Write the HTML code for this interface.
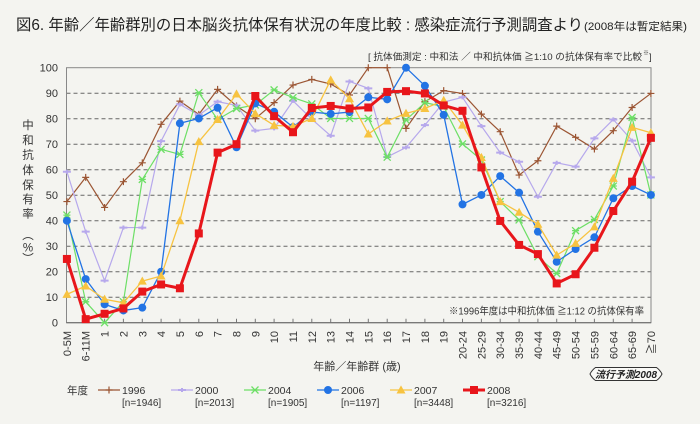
<!DOCTYPE html>
<html><head><meta charset="utf-8">
<style>
html,body{margin:0;padding:0;background:#f4f4f0;}
svg{display:block;font-family:"Liberation Sans","Noto Sans CJK JP",sans-serif;}
</style></head>
<body>
<svg width="700" height="424" viewBox="0 0 700 424" xmlns="http://www.w3.org/2000/svg">
<rect x="0" y="0" width="700" height="424" fill="#f4f4f0"/>
<defs>
<path id="m96" d="M-3.5,0H3.5M0,-1.37V1.37" stroke="#9b5533" stroke-width="1.2" fill="none" vector-effect="non-scaling-stroke"/>
<path id="m00" d="M-4,0H4M0,-0.8V0.8" stroke="#b6a8ec" stroke-width="2" fill="none" vector-effect="non-scaling-stroke"/>
<path id="m04" d="M-3.5,-1.37L3.5,1.37M-3.5,1.37L3.5,-1.37M-3.5,0H3.5" stroke="#6ddf66" stroke-width="1.3" fill="none" vector-effect="non-scaling-stroke"/>
<ellipse id="m06" cx="0" cy="0" rx="4" ry="1.57" fill="#2273e4"/>
<path id="m07" d="M0,1.8L-4.5,-1.37L4.5,-1.37Z" fill="#f7c340"/>
<rect id="m08" x="-4" y="-1.57" width="8" height="3.14" fill="#e8161b"/>
</defs>

<!-- Title -->
<text x="16" y="30" font-size="15.5" fill="#222" textLength="567" lengthAdjust="spacingAndGlyphs">図6. 年齢／年齢群別の日本脳炎抗体保有状況の年度比較 : 感染症流行予測調査より</text>
<text x="584" y="30" font-size="11" fill="#222" textLength="103" lengthAdjust="spacingAndGlyphs">(2008年は暫定結果)</text>

<!-- Subtitle -->
<text x="368" y="60" font-size="9.5" fill="#333" textLength="274" lengthAdjust="spacingAndGlyphs">[ 抗体価測定 : 中和法 ／ 中和抗体価 ≧1:10 の抗体保有率で比較</text>
<text x="643" y="55" font-size="6" fill="#333">※</text>
<text x="649" y="60" font-size="9.5" fill="#333">]</text>

<!-- Grid -->
<g stroke="#666" stroke-width="1" stroke-dasharray="4,3">
<line x1="66.5" y1="297.2" x2="651" y2="297.2"/>
<line x1="66.5" y1="271.7" x2="651" y2="271.7"/>
<line x1="66.5" y1="246.2" x2="651" y2="246.2"/>
<line x1="66.5" y1="220.7" x2="651" y2="220.7"/>
<line x1="66.5" y1="195.2" x2="651" y2="195.2"/>
<line x1="66.5" y1="169.7" x2="651" y2="169.7"/>
<line x1="66.5" y1="144.2" x2="651" y2="144.2"/>
<line x1="66.5" y1="118.7" x2="651" y2="118.7"/>
<line x1="66.5" y1="93.2" x2="651" y2="93.2"/>
</g>
<rect x="66.5" y="67.7" width="584.5" height="255" fill="none" stroke="#888" stroke-width="1"/>
<line x1="66.5" y1="322.7" x2="651" y2="322.7" stroke="#666" stroke-width="1"/>

<!-- x ticks -->
<g stroke="#777" stroke-width="1">
<path d="M85.7,322.7V318.7M104.6,322.7V318.7M123.4,322.7V318.7M142.3,322.7V318.7M161.1,322.7V318.7M179.9,322.7V318.7M198.8,322.7V318.7M217.6,322.7V318.7M236.5,322.7V318.7M255.3,322.7V318.7M274.1,322.7V318.7M293,322.7V318.7M311.8,322.7V318.7M330.7,322.7V318.7M349.5,322.7V318.7M368.3,322.7V318.7M387.2,322.7V318.7M406,322.7V318.7M424.9,322.7V318.7M443.7,322.7V318.7M462.5,322.7V318.7M481.4,322.7V318.7M500.2,322.7V318.7M519.1,322.7V318.7M537.9,322.7V318.7M556.7,322.7V318.7M575.6,322.7V318.7M594.4,322.7V318.7M613.3,322.7V318.7M632.1,322.7V318.7"/>
</g>

<!-- y labels -->
<g font-size="11" fill="#333" text-anchor="end">
<text x="58" y="71.7">100</text>
<text x="58" y="97.2">90</text>
<text x="58" y="122.7">80</text>
<text x="58" y="148.2">70</text>
<text x="58" y="173.7">60</text>
<text x="58" y="199.2">50</text>
<text x="58" y="224.7">40</text>
<text x="58" y="250.2">30</text>
<text x="58" y="275.7">20</text>
<text x="58" y="301.2">10</text>
<text x="58" y="326.7">0</text>
</g>

<!-- y title -->
<g font-size="11.5" fill="#333" text-anchor="middle">
<text x="28" y="129">中</text>
<text x="28" y="144">和</text>
<text x="28" y="158.3">抗</text>
<text x="28" y="174">体</text>
<text x="28" y="189">保</text>
<text x="28" y="203">有</text>
<text x="28" y="217.3">率</text>
<text x="28" y="239">︵</text>
<text x="28" y="251.7">%</text>
<text x="28" y="262.3">︶</text>
</g>

<!-- x labels -->
<g font-size="11" fill="#333" text-anchor="end">
<text transform="translate(70.9,331) rotate(-90)">0-5M</text>
<text transform="translate(89.7,331) rotate(-90)">6-11M</text>
<text transform="translate(108.6,331) rotate(-90)">1</text>
<text transform="translate(127.4,331) rotate(-90)">2</text>
<text transform="translate(146.3,331) rotate(-90)">3</text>
<text transform="translate(165.1,331) rotate(-90)">4</text>
<text transform="translate(183.9,331) rotate(-90)">5</text>
<text transform="translate(202.8,331) rotate(-90)">6</text>
<text transform="translate(221.6,331) rotate(-90)">7</text>
<text transform="translate(240.5,331) rotate(-90)">8</text>
<text transform="translate(259.3,331) rotate(-90)">9</text>
<text transform="translate(278.1,331) rotate(-90)">10</text>
<text transform="translate(297,331) rotate(-90)">11</text>
<text transform="translate(315.8,331) rotate(-90)">12</text>
<text transform="translate(334.7,331) rotate(-90)">13</text>
<text transform="translate(353.5,331) rotate(-90)">14</text>
<text transform="translate(372.3,331) rotate(-90)">15</text>
<text transform="translate(391.2,331) rotate(-90)">16</text>
<text transform="translate(410,331) rotate(-90)">17</text>
<text transform="translate(428.9,331) rotate(-90)">18</text>
<text transform="translate(447.7,331) rotate(-90)">19</text>
<text transform="translate(466.5,331) rotate(-90)">20-24</text>
<text transform="translate(485.4,331) rotate(-90)">25-29</text>
<text transform="translate(504.2,331) rotate(-90)">30-34</text>
<text transform="translate(523.1,331) rotate(-90)">35-39</text>
<text transform="translate(541.9,331) rotate(-90)">40-44</text>
<text transform="translate(560.7,331) rotate(-90)">45-49</text>
<text transform="translate(579.6,331) rotate(-90)">50-54</text>
<text transform="translate(598.4,331) rotate(-90)">55-59</text>
<text transform="translate(617.3,331) rotate(-90)">60-64</text>
<text transform="translate(636.1,331) rotate(-90)">65-69</text>
<text transform="translate(654.9,331) rotate(-90)">≧70</text>
</g>

<!-- x title -->
<text x="357" y="370" font-size="11" fill="#333" text-anchor="middle">年齢／年齢群 (歳)</text>

<!-- annotation -->
<text x="449" y="314.5" font-size="10" fill="#333" textLength="195" lengthAdjust="spacingAndGlyphs">※1996年度は中和抗体価 ≧1:12 の抗体保有率</text>

<!-- Series -->
<g transform="translate(0,322.7) scale(1,-2.55)">
<polyline fill="none" stroke="#9b5533" stroke-width="1.2" stroke-linejoin="round" vector-effect="non-scaling-stroke" points="66.9,47.5 85.7,57 104.6,45.2 123.4,55.3 142.3,62.7 161.1,77.8 179.9,86.9 198.8,81.7 217.6,91.5 236.5,85 255.3,80 274.1,86.3 293,93.2 311.8,95.4 330.7,93.6 349.5,89.3 368.3,100 387.2,100 406,76.2 424.9,86.7 443.7,91 462.5,89.9 481.4,81.8 500.2,74.9 519.1,57.9 537.9,63.5 556.7,77.1 575.6,72.7 594.4,68.1 613.3,75.3 632.1,84.4 650.9,89.9"/>
<use href="#m96" x="66.9" y="47.5"/><use href="#m96" x="85.7" y="57"/><use href="#m96" x="104.6" y="45.2"/><use href="#m96" x="123.4" y="55.3"/><use href="#m96" x="142.3" y="62.7"/><use href="#m96" x="161.1" y="77.8"/><use href="#m96" x="179.9" y="86.9"/><use href="#m96" x="198.8" y="81.7"/><use href="#m96" x="217.6" y="91.5"/><use href="#m96" x="236.5" y="85"/><use href="#m96" x="255.3" y="80"/><use href="#m96" x="274.1" y="86.3"/><use href="#m96" x="293" y="93.2"/><use href="#m96" x="311.8" y="95.4"/><use href="#m96" x="330.7" y="93.6"/><use href="#m96" x="349.5" y="89.3"/><use href="#m96" x="368.3" y="100"/><use href="#m96" x="387.2" y="100"/><use href="#m96" x="406" y="76.2"/><use href="#m96" x="424.9" y="86.7"/><use href="#m96" x="443.7" y="91"/><use href="#m96" x="462.5" y="89.9"/><use href="#m96" x="481.4" y="81.8"/><use href="#m96" x="500.2" y="74.9"/><use href="#m96" x="519.1" y="57.9"/><use href="#m96" x="537.9" y="63.5"/><use href="#m96" x="556.7" y="77.1"/><use href="#m96" x="575.6" y="72.7"/><use href="#m96" x="594.4" y="68.1"/><use href="#m96" x="613.3" y="75.3"/><use href="#m96" x="632.1" y="84.4"/><use href="#m96" x="650.9" y="89.9"/>

<polyline fill="none" stroke="#b6a8ec" stroke-width="1.2" stroke-linejoin="round" vector-effect="non-scaling-stroke" points="66.9,59.2 85.7,35.7 104.6,16.5 123.4,37.3 142.3,37.3 161.1,71.2 179.9,85.6 198.8,81.4 217.6,86.7 236.5,85.2 255.3,75.3 274.1,76.2 293,87 311.8,79.8 330.7,73.3 349.5,94.6 368.3,91.9 387.2,65 406,68.7 424.9,77.5 443.7,86.5 462.5,88.4 481.4,77.1 500.2,66.7 519.1,63.1 537.9,49.4 556.7,62.7 575.6,61.2 594.4,72.3 613.3,79.7 632.1,71.4 650.9,57"/>
<use href="#m00" x="66.9" y="59.2"/><use href="#m00" x="85.7" y="35.7"/><use href="#m00" x="104.6" y="16.5"/><use href="#m00" x="123.4" y="37.3"/><use href="#m00" x="142.3" y="37.3"/><use href="#m00" x="161.1" y="71.2"/><use href="#m00" x="179.9" y="85.6"/><use href="#m00" x="198.8" y="81.4"/><use href="#m00" x="217.6" y="86.7"/><use href="#m00" x="236.5" y="85.2"/><use href="#m00" x="255.3" y="75.3"/><use href="#m00" x="274.1" y="76.2"/><use href="#m00" x="293" y="87"/><use href="#m00" x="311.8" y="79.8"/><use href="#m00" x="330.7" y="73.3"/><use href="#m00" x="349.5" y="94.6"/><use href="#m00" x="368.3" y="91.9"/><use href="#m00" x="387.2" y="65"/><use href="#m00" x="406" y="68.7"/><use href="#m00" x="424.9" y="77.5"/><use href="#m00" x="443.7" y="86.5"/><use href="#m00" x="462.5" y="88.4"/><use href="#m00" x="481.4" y="77.1"/><use href="#m00" x="500.2" y="66.7"/><use href="#m00" x="519.1" y="63.1"/><use href="#m00" x="537.9" y="49.4"/><use href="#m00" x="556.7" y="62.7"/><use href="#m00" x="575.6" y="61.2"/><use href="#m00" x="594.4" y="72.3"/><use href="#m00" x="613.3" y="79.7"/><use href="#m00" x="632.1" y="71.4"/><use href="#m00" x="650.9" y="57"/>

<polyline fill="none" stroke="#6ddf66" stroke-width="1.2" stroke-linejoin="round" vector-effect="non-scaling-stroke" points="66.9,42.2 85.7,8.2 104.6,0 123.4,8.2 142.3,56.2 161.1,68 179.9,66 198.8,90.2 217.6,79.7 236.5,84 255.3,85.4 274.1,91.3 293,88.3 311.8,85.8 330.7,80.1 349.5,80.1 368.3,80.1 387.2,64.9 406,79.5 424.9,86.3 443.7,84.7 462.5,70.1 481.4,63.8 500.2,47.5 519.1,40.3 537.9,25.9 556.7,19.3 575.6,36.1 594.4,40.5 613.3,53.6 632.1,80.5 650.9,50.1"/>
<use href="#m04" x="66.9" y="42.2"/><use href="#m04" x="85.7" y="8.2"/><use href="#m04" x="104.6" y="0"/><use href="#m04" x="123.4" y="8.2"/><use href="#m04" x="142.3" y="56.2"/><use href="#m04" x="161.1" y="68"/><use href="#m04" x="179.9" y="66"/><use href="#m04" x="198.8" y="90.2"/><use href="#m04" x="217.6" y="79.7"/><use href="#m04" x="236.5" y="84"/><use href="#m04" x="255.3" y="85.4"/><use href="#m04" x="274.1" y="91.3"/><use href="#m04" x="293" y="88.3"/><use href="#m04" x="311.8" y="85.8"/><use href="#m04" x="330.7" y="80.1"/><use href="#m04" x="349.5" y="80.1"/><use href="#m04" x="368.3" y="80.1"/><use href="#m04" x="387.2" y="64.9"/><use href="#m04" x="406" y="79.5"/><use href="#m04" x="424.9" y="86.3"/><use href="#m04" x="443.7" y="84.7"/><use href="#m04" x="462.5" y="70.1"/><use href="#m04" x="481.4" y="63.8"/><use href="#m04" x="500.2" y="47.5"/><use href="#m04" x="519.1" y="40.3"/><use href="#m04" x="537.9" y="25.9"/><use href="#m04" x="556.7" y="19.3"/><use href="#m04" x="575.6" y="36.1"/><use href="#m04" x="594.4" y="40.5"/><use href="#m04" x="613.3" y="53.6"/><use href="#m04" x="632.1" y="80.5"/><use href="#m04" x="650.9" y="50.1"/>

<polyline fill="none" stroke="#2273e4" stroke-width="1.3" stroke-linejoin="round" vector-effect="non-scaling-stroke" points="66.9,40 85.7,17.1 104.6,7.2 123.4,4.8 142.3,5.9 161.1,20 179.9,78.2 198.8,80.1 217.6,84.3 236.5,68.8 255.3,86 274.1,82.7 293,76.7 311.8,82.6 330.7,81.9 349.5,82.6 368.3,88.4 387.2,87.6 406,100 424.9,92.9 443.7,81.5 462.5,46.4 481.4,50.1 500.2,57.5 519.1,51 537.9,35.7 556.7,23.9 575.6,28.9 594.4,33.5 613.3,48.8 632.1,53.6 650.9,50.1"/>
<use href="#m06" x="66.9" y="40"/><use href="#m06" x="85.7" y="17.1"/><use href="#m06" x="104.6" y="7.2"/><use href="#m06" x="123.4" y="4.8"/><use href="#m06" x="142.3" y="5.9"/><use href="#m06" x="161.1" y="20"/><use href="#m06" x="179.9" y="78.2"/><use href="#m06" x="198.8" y="80.1"/><use href="#m06" x="217.6" y="84.3"/><use href="#m06" x="236.5" y="68.8"/><use href="#m06" x="255.3" y="86"/><use href="#m06" x="274.1" y="82.7"/><use href="#m06" x="293" y="76.7"/><use href="#m06" x="311.8" y="82.6"/><use href="#m06" x="330.7" y="81.9"/><use href="#m06" x="349.5" y="82.6"/><use href="#m06" x="368.3" y="88.4"/><use href="#m06" x="387.2" y="87.6"/><use href="#m06" x="406" y="100"/><use href="#m06" x="424.9" y="92.9"/><use href="#m06" x="443.7" y="81.5"/><use href="#m06" x="462.5" y="46.4"/><use href="#m06" x="481.4" y="50.1"/><use href="#m06" x="500.2" y="57.5"/><use href="#m06" x="519.1" y="51"/><use href="#m06" x="537.9" y="35.7"/><use href="#m06" x="556.7" y="23.9"/><use href="#m06" x="575.6" y="28.9"/><use href="#m06" x="594.4" y="33.5"/><use href="#m06" x="613.3" y="48.8"/><use href="#m06" x="632.1" y="53.6"/><use href="#m06" x="650.9" y="50.1"/>

<polyline fill="none" stroke="#f7c340" stroke-width="1.3" stroke-linejoin="round" vector-effect="non-scaling-stroke" points="66.9,11.1 85.7,14.4 104.6,9.2 123.4,7.8 142.3,16.3 161.1,18.3 179.9,40 198.8,71 217.6,79.7 236.5,89.7 255.3,82 274.1,77.4 293,77 311.8,80.1 330.7,95.2 349.5,87.8 368.3,74 387.2,79.1 406,82.1 424.9,84 443.7,87.2 462.5,77.5 481.4,64.8 500.2,47.5 519.1,43.3 537.9,38.6 556.7,26.5 575.6,31.1 594.4,37.6 613.3,56.6 632.1,76.6 650.9,74.5"/>
<use href="#m07" x="66.9" y="11.1"/><use href="#m07" x="85.7" y="14.4"/><use href="#m07" x="104.6" y="9.2"/><use href="#m07" x="123.4" y="7.8"/><use href="#m07" x="142.3" y="16.3"/><use href="#m07" x="161.1" y="18.3"/><use href="#m07" x="179.9" y="40"/><use href="#m07" x="198.8" y="71"/><use href="#m07" x="217.6" y="79.7"/><use href="#m07" x="236.5" y="89.7"/><use href="#m07" x="255.3" y="82"/><use href="#m07" x="274.1" y="77.4"/><use href="#m07" x="293" y="77"/><use href="#m07" x="311.8" y="80.1"/><use href="#m07" x="330.7" y="95.2"/><use href="#m07" x="349.5" y="87.8"/><use href="#m07" x="368.3" y="74"/><use href="#m07" x="387.2" y="79.1"/><use href="#m07" x="406" y="82.1"/><use href="#m07" x="424.9" y="84"/><use href="#m07" x="443.7" y="87.2"/><use href="#m07" x="462.5" y="77.5"/><use href="#m07" x="481.4" y="64.8"/><use href="#m07" x="500.2" y="47.5"/><use href="#m07" x="519.1" y="43.3"/><use href="#m07" x="537.9" y="38.6"/><use href="#m07" x="556.7" y="26.5"/><use href="#m07" x="575.6" y="31.1"/><use href="#m07" x="594.4" y="37.6"/><use href="#m07" x="613.3" y="56.6"/><use href="#m07" x="632.1" y="76.6"/><use href="#m07" x="650.9" y="74.5"/>

<polyline fill="none" stroke="#e8161b" stroke-width="3" stroke-linejoin="round" vector-effect="non-scaling-stroke" points="66.9,25 85.7,1.4 104.6,3.5 123.4,5.6 142.3,12.2 161.1,15 179.9,13.5 198.8,35 217.6,66.7 236.5,70 255.3,88.9 274.1,81 293,74.7 311.8,84.2 330.7,85 349.5,84 368.3,84.4 387.2,90.5 406,90.8 424.9,89.9 443.7,85.2 462.5,83.1 481.4,60.9 500.2,39.9 519.1,30.5 537.9,26.9 556.7,15.4 575.6,19 594.4,29.4 613.3,43.8 632.1,55.3 650.9,72.5"/>
<use href="#m08" x="66.9" y="25"/><use href="#m08" x="85.7" y="1.4"/><use href="#m08" x="104.6" y="3.5"/><use href="#m08" x="123.4" y="5.6"/><use href="#m08" x="142.3" y="12.2"/><use href="#m08" x="161.1" y="15"/><use href="#m08" x="179.9" y="13.5"/><use href="#m08" x="198.8" y="35"/><use href="#m08" x="217.6" y="66.7"/><use href="#m08" x="236.5" y="70"/><use href="#m08" x="255.3" y="88.9"/><use href="#m08" x="274.1" y="81"/><use href="#m08" x="293" y="74.7"/><use href="#m08" x="311.8" y="84.2"/><use href="#m08" x="330.7" y="85"/><use href="#m08" x="349.5" y="84"/><use href="#m08" x="368.3" y="84.4"/><use href="#m08" x="387.2" y="90.5"/><use href="#m08" x="406" y="90.8"/><use href="#m08" x="424.9" y="89.9"/><use href="#m08" x="443.7" y="85.2"/><use href="#m08" x="462.5" y="83.1"/><use href="#m08" x="481.4" y="60.9"/><use href="#m08" x="500.2" y="39.9"/><use href="#m08" x="519.1" y="30.5"/><use href="#m08" x="537.9" y="26.9"/><use href="#m08" x="556.7" y="15.4"/><use href="#m08" x="575.6" y="19"/><use href="#m08" x="594.4" y="29.4"/><use href="#m08" x="613.3" y="43.8"/><use href="#m08" x="632.1" y="55.3"/><use href="#m08" x="650.9" y="72.5"/>
</g>

<!-- Badge -->
<path d="M590,374 Q592,370 595.5,367.5 L656.5,367.5 Q660,370 662,374 Q660,378 656.5,380.5 L595.5,380.5 Q592,378 590,374 Z" fill="#fafaf7" stroke="#333" stroke-width="1"/>
<text x="626" y="378" font-size="10" font-style="italic" font-weight="bold" fill="#222" text-anchor="middle" textLength="62" lengthAdjust="spacingAndGlyphs">流行予測2008</text>

<!-- Legend -->
<g font-size="10.5" fill="#333">
<text x="67" y="394">年度</text>

<line x1="98" y1="390" x2="120" y2="390" stroke="#9b5533" stroke-width="1.2"/>
<path d="M105.5,390H112.5M109,386.5V393.5" stroke="#9b5533" stroke-width="1.2"/>
<text x="122" y="394">1996</text>
<text x="122" y="406" font-size="10">[n=1946]</text>

<line x1="171" y1="390" x2="193" y2="390" stroke="#b6a8ec" stroke-width="1.2"/>
<path d="M178,390H186M182,388V392" stroke="#b6a8ec" stroke-width="2"/>
<text x="195" y="394">2000</text>
<text x="195" y="406" font-size="10">[n=2013]</text>

<line x1="244" y1="390" x2="266" y2="390" stroke="#6ddf66" stroke-width="1.2"/>
<path d="M251.5,386.5L258.5,393.5M251.5,393.5L258.5,386.5M251.5,390H258.5" stroke="#6ddf66" stroke-width="1.3"/>
<text x="268" y="394">2004</text>
<text x="268" y="406" font-size="10">[n=1905]</text>

<line x1="317" y1="390" x2="339" y2="390" stroke="#2273e4" stroke-width="1.3"/>
<circle cx="328" cy="390" r="4" fill="#2273e4"/>
<text x="341" y="394">2006</text>
<text x="341" y="406" font-size="10">[n=1197]</text>

<line x1="390" y1="390" x2="412" y2="390" stroke="#f7c340" stroke-width="1.3"/>
<path d="M401,385.4L396.5,393.5L405.5,393.5Z" fill="#f7c340"/>
<text x="414" y="394">2007</text>
<text x="414" y="406" font-size="10">[n=3448]</text>

<line x1="463" y1="390" x2="485" y2="390" stroke="#e8161b" stroke-width="3"/>
<rect x="470" y="386" width="8" height="8" fill="#e8161b"/>
<text x="487" y="394">2008</text>
<text x="487" y="406" font-size="10">[n=3216]</text>
</g>
</svg>
</body></html>
